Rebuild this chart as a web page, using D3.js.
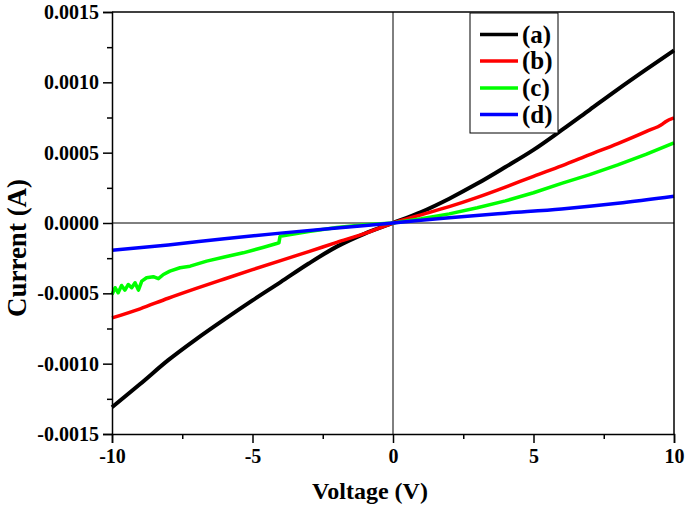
<!DOCTYPE html>
<html>
<head>
<meta charset="utf-8">
<script src="https://cdn.jsdelivr.net/npm/d3@7/dist/d3.min.js"></script>
<style>
  html, body { margin: 0; padding: 0; background: #fff; }
  svg { display: block; }
  text { font-family: "Liberation Serif", "Times New Roman", serif; font-weight: bold; fill: #000; }
</style>
</head>
<body>
<svg id="chart" width="685" height="513"></svg>
<script>
// ---- data (voltage in V, current in A) ----
const seriesNames = ["(a)", "(b)", "(c)", "(d)"];
const seriesColors = ["#000000", "#ff0000", "#00ff00", "#0000ff"];

const voltsA = [-10, -9, -8, -7, -6, -5, -4, -3, -2, -1, 0, 1, 2, 3, 4, 5, 6, 7, 8, 9, 10];
const currentA = [-0.00131, -0.001145, -0.000975, -0.000825, -0.000685, -0.00055, -0.00042, -0.000288, -0.000168, -0.000075, 0,
                  0.000078, 0.000173, 0.00028, 0.000398, 0.00052, 0.00066, 0.000805, 0.00095, 0.00109, 0.001227];

const voltsB = [-10, -9, -8, -7, -6, -5, -4, -3, -2, -1, 0, 1, 2, 3, 4, 5, 6, 7, 8, 9, 9.6, 9.7, 10];
const currentB = [-0.000675, -0.00061, -0.000535, -0.000465, -0.000398, -0.000332, -0.000267, -0.000203, -0.000138, -0.000074, 0,
                  0.000058, 0.000116, 0.000182, 0.000255, 0.000332, 0.000406, 0.000486, 0.000565, 0.00065, 0.000705, 0.00072, 0.000747];

const voltsC = [-10, -9.89, -9.78, -9.66, -9.54, -9.42, -9.30, -9.18, -9.06, -8.94, -8.77, -8.53, -8.35, -8.17, -7.94, -7.58, -7.22, -6.63, -6, -5.33, -4.6, -4.14, -4.06, -4.02, -3, -2, -1, 0,
                1, 2, 3, 4, 5, 6, 7, 8, 9, 10];
const currentC = [-0.000508, -0.00046, -0.000496, -0.000444, -0.000477, -0.000437, -0.00046, -0.000425, -0.000477, -0.000413, -0.000389, -0.000382, -0.000396, -0.000366, -0.000342, -0.000318, -0.000307, -0.000271, -0.000242, -0.000212, -0.000172, -0.000146, -0.000141, -0.000095, -0.00006, -0.000032, -0.000013, 0,
                  0.00003, 0.000065, 0.000108, 0.000157, 0.000215, 0.000282, 0.000344, 0.000413, 0.000488, 0.00057];

const voltsD = [-10, -8, -6, -4, -2, 0, 2, 4, 6, 8, 10];
const currentD = [-0.000193, -0.000156, -0.000112, -0.000072, -0.000035, 0, 0.000038, 0.00007, 0.0001, 0.00014, 0.00019];

const xTicks = [-10, -5, 0, 5, 10];
const xMinorTicks = [-7.5, -2.5, 2.5, 7.5];
const yTicks = [-0.0015, -0.0010, -0.0005, 0, 0.0005, 0.0010, 0.0015];
const yMinorTicks = [-0.00125, -0.00075, -0.00025, 0.00025, 0.00075, 0.00125];
const xTitle = "Voltage (V)";
const yTitle = "Current (A)";

// ---- layout ----
const svg = d3.select("#chart");
const mLeft = 112, mRight = 674, mTop = 12, mBottom = 434;

const x = d3.scaleLinear().domain([-10, 10]).range([mLeft, mRight]);
const y = d3.scaleLinear().domain([-0.0015, 0.0015]).range([mBottom, mTop]);

const series = [
  { v: voltsA, i: currentA, smooth: true },
  { v: voltsB, i: currentB, smooth: true },
  { v: voltsC, i: currentC, smooth: false },
  { v: voltsD, i: currentD, smooth: true }
];

// zero lines
svg.append("line").attr("x1", mLeft).attr("x2", mRight).attr("y1", y(0)).attr("y2", y(0))
  .attr("stroke", "#000").attr("stroke-width", 1);
svg.append("line").attr("x1", x(0)).attr("x2", x(0)).attr("y1", mTop).attr("y2", mBottom)
  .attr("stroke", "#000").attr("stroke-width", 1);

// curves
series.forEach((s, k) => {
  const pts = s.v.map((v, j) => [v, s.i[j]]);
  const line = d3.line().x(d => x(d[0])).y(d => y(d[1]))
    .curve(s.smooth ? d3.curveMonotoneX : d3.curveLinear);
  svg.append("path").datum(pts).attr("d", line)
    .attr("fill", "none").attr("stroke", seriesColors[k])
    .attr("stroke-width", k === 0 ? 4 : 3.5)
    .attr("stroke-linejoin", "round");
});

// frame (top / right)
svg.append("line").attr("x1", mLeft).attr("x2", mRight).attr("y1", mTop).attr("y2", mTop)
  .attr("stroke", "#000").attr("stroke-width", 1.5);
svg.append("line").attr("x1", mRight).attr("x2", mRight).attr("y1", mTop).attr("y2", mBottom)
  .attr("stroke", "#000").attr("stroke-width", 1.5);

// axes
const fmtY = d => (d < 0 ? "-" : "") + d3.format(".4f")(Math.abs(d));
const fmtX = d => (d < 0 ? "-" : "") + Math.abs(d);

const xAxis = svg.append("g").attr("transform", `translate(0,${mBottom})`)
  .call(d3.axisBottom(x).tickValues(xTicks).tickFormat(fmtX).tickSize(9).tickPadding(6));
const xMinor = svg.append("g").attr("transform", `translate(0,${mBottom})`)
  .call(d3.axisBottom(x).tickValues(xMinorTicks).tickFormat("").tickSize(5));
const yAxis = svg.append("g").attr("transform", `translate(${mLeft},0)`)
  .call(d3.axisLeft(y).tickValues(yTicks).tickFormat(fmtY).tickSize(9).tickPadding(4));
const yMinor = svg.append("g").attr("transform", `translate(${mLeft},0)`)
  .call(d3.axisLeft(y).tickValues(yMinorTicks).tickFormat("").tickSize(5));

[xAxis, xMinor, yAxis, yMinor].forEach(g => {
  g.select(".domain").attr("stroke", "#000").attr("stroke-width", 1.5);
  g.selectAll(".tick line").attr("stroke", "#000").attr("stroke-width", 1.5);
});
xMinor.select(".domain").remove();
yMinor.select(".domain").remove();
[xAxis, yAxis].forEach(g => {
  g.selectAll(".tick text")
    .style("font-family", "'Liberation Serif', 'Times New Roman', serif")
    .style("font-weight", "bold")
    .style("font-size", "20px")
    .attr("fill", "#000");
});

// axis titles
svg.append("text").attr("x", 370).attr("y", 499).attr("text-anchor", "middle")
  .style("font-size", "24px").text(xTitle);
svg.append("text").attr("transform", "translate(26,248) rotate(-90)")
  .attr("text-anchor", "middle").style("font-size", "27px").text(yTitle);

// legend
const lg = svg.append("g");
lg.append("rect").attr("x", 470).attr("y", 13).attr("width", 88).attr("height", 120)
  .attr("fill", "#fff").attr("stroke", "#000").attr("stroke-width", 1);
const rowY = [34.5, 61, 88, 114.5];
seriesNames.forEach((name, k) => {
  lg.append("line").attr("x1", 480).attr("x2", 518).attr("y1", rowY[k]).attr("y2", rowY[k])
    .attr("stroke", seriesColors[k]).attr("stroke-width", 3.5);
  lg.append("text").attr("x", 522).attr("y", rowY[k]).attr("dy", "0.33em")
    .style("font-size", "25px").text(name);
});
</script>
</body>
</html>
